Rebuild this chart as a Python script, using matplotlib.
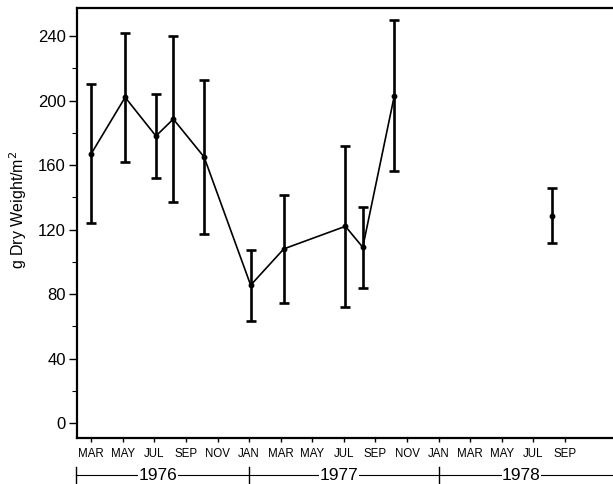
import matplotlib
matplotlib.use("Agg")
import matplotlib.pyplot as plt
import matplotlib.transforms as mtransforms

plt.rcParams['font.family'] = ['Liberation Sans', 'DejaVu Sans']

# months counted from Jan 1976 (0 = JAN 1976)
months = [2.0, 4.15, 6.1, 7.2, 9.15, 12.1, 14.2, 18.1, 19.2, 21.2]
weight = [167, 202, 178, 188.5, 165, 85.5, 108, 122, 109, 203]
sd = [43, 40, 26, 51.5, 47.5, 22, 33.5, 50, 25, 47]

# lone 1978 sample, not joined to the rest
month_78 = [31.2]
weight_78 = [128.5]
sd_78 = [17]

tick_months = list(range(2, 33, 2))
month_names = ['MAR', 'MAY', 'JUL', 'SEP', 'NOV', 'JAN', 'MAR', 'MAY', 'JUL', 'SEP',
               'NOV', 'JAN', 'MAR', 'MAY', 'JUL', 'SEP']
years = ['1976', '1977', '1978']
year_edges = [1.05, 12, 24, 35.1]

fig = plt.figure(figsize=(6.13, 4.84), dpi=100)
ax = fig.add_axes([0.1256, 0.095, 0.8744, 0.8885])

ax.errorbar(months, weight, yerr=sd, color='black', lw=1.2, elinewidth=1.9,
            capsize=3.3, capthick=1.9, marker='o', markersize=3.2)
ax.errorbar(month_78, weight_78, yerr=sd_78, color='black', lw=0, elinewidth=1.9,
            capsize=3.3, capthick=1.9, marker='o', markersize=3.2)

ax.set_xlim(1.1, 35.05)
ax.set_ylim(-9.3, 257.4)

ax.set_yticks(range(0, 241, 40))
ax.set_yticks(range(20, 241, 40), minor=True)
ax.set_xticks(tick_months)
ax.set_xticklabels(month_names, fontsize=8.3)
# first two labels sit a little to the left of their ticks
for lbl, dx in zip(ax.get_xticklabels()[:2], [-0.5, -0.9]):
    lbl.set_transform(lbl.get_transform() + mtransforms.ScaledTranslation(dx * 0.1, 0, fig.dpi_scale_trans))
ax.tick_params(axis='y', which='major', length=6, width=1, labelsize=12, pad=2)
ax.tick_params(axis='y', which='minor', length=3.5, width=0.8)
ax.tick_params(axis='x', length=3, width=1, pad=4)

for side in ['left', 'top', 'bottom']:
    ax.spines[side].set_linewidth(1.6)
ax.spines['right'].set_visible(False)

ax.set_ylabel('g Dry Weight/m$^2$', fontsize=11.5)
ax.yaxis.set_label_coords(-0.09, 0.53)

# year brackets under the month labels
trans = mtransforms.blended_transform_factory(ax.transData, ax.transAxes)
yb = -0.086
ax.plot([year_edges[0], year_edges[-1]], [yb, yb], color='black', lw=0.8,
        transform=trans, clip_on=False)
for e in year_edges[:3]:
    ax.plot([e, e], [yb - 0.018, yb + 0.018], color='black', lw=1.0,
            transform=trans, clip_on=False)
for i, yr in enumerate(years):
    xc = (year_edges[i] + year_edges[i + 1]) / 2 - 0.3
    ax.text(xc, yb, yr, transform=trans, ha='center', va='center', fontsize=12.5,
            bbox=dict(facecolor='white', edgecolor='none', pad=0.2))

fig.savefig('out.png', dpi=100)
